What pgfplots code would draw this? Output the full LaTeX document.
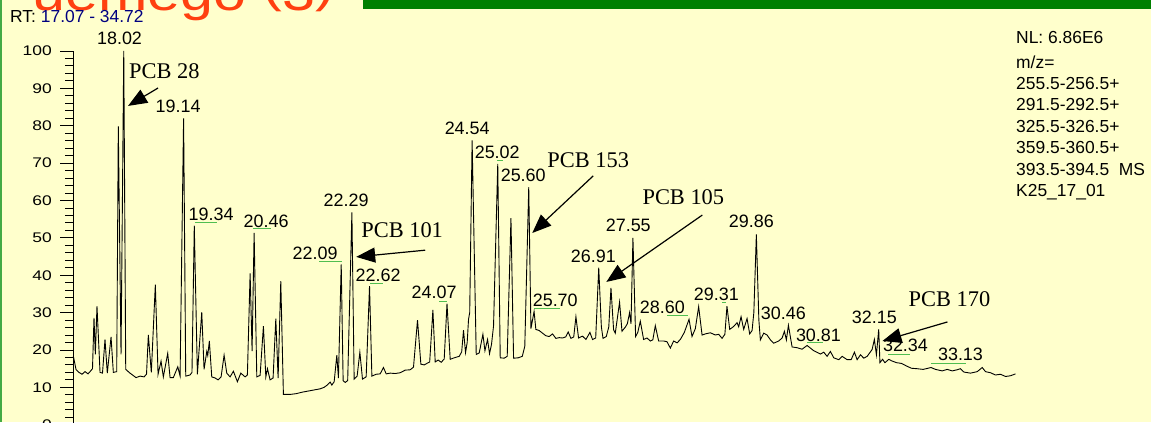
\documentclass[border=0pt]{standalone}
\usepackage{fontspec}
\setmainfont{Liberation Sans}
\newfontfamily\timesf{Liberation Serif}
\usepackage{graphicx}
\usepackage{pgfplots}
\usepackage{pgfplotstable}
\pgfplotsset{compat=1.18}
\usetikzlibrary{arrows.meta}
\definecolor{bgy}{RGB}{255,255,204}
\definecolor{topred}{RGB}{255,64,16}
\definecolor{darkgr}{RGB}{0,128,0}
\definecolor{bordgr}{RGB}{68,170,68}
\definecolor{rtblue}{RGB}{0,0,128}
\definecolor{lblgreen}{RGB}{80,190,80}

\pgfplotstableread{
t I
17.076 18.4
17.126 14.8
17.182 14.0
17.239 13.5
17.295 14.2
17.351 13.6
17.407 14.5
17.435 15.0
17.463 28.6
17.488 18.8
17.519 31.7
17.576 14.0
17.622 13.8
17.669 22.8
17.712 13.8
17.782 23.5
17.825 14.0
17.888 14.2
17.918 79.8
17.969 18.8
18.020 100.0
18.057 14.8
18.137 13.8
18.194 13.2
18.250 12.6
18.325 13.0
18.400 12.8
18.446 13.5
18.480 24.0
18.536 14.0
18.611 37.5
18.662 13.5
18.718 17.0
18.761 12.8
18.843 19.1
18.887 12.6
18.948 12.6
19.031 15.5
19.074 13.0
19.140 82.0
19.180 13.0
19.260 13.3
19.297 14.0
19.340 53.3
19.398 13.5
19.480 30.1
19.523 14.8
19.574 19.6
19.592 18.5
19.622 22.4
19.667 12.8
19.729 12.5
19.785 12.0
19.842 12.8
19.898 18.6
19.948 13.8
20.010 12.8
20.072 14.3
20.147 11.5
20.211 13.8
20.291 12.8
20.334 13.3
20.385 40.5
20.422 19.7
20.460 51.3
20.510 12.8
20.572 13.2
20.634 26.4
20.679 12.8
20.709 15.0
20.759 12.0
20.815 12.5
20.866 28.4
20.909 12.5
20.959 38.4
21.008 8.1
21.134 8.1
21.246 8.3
21.358 8.7
21.471 9.0
21.583 9.3
21.696 9.6
21.770 10.0
21.827 10.6
21.883 11.4
21.915 10.6
21.958 11.5
22.008 18.6
22.038 12.5
22.090 42.9
22.126 11.8
22.164 11.3
22.211 11.8
22.290 56.8
22.332 12.2
22.388 13.0
22.439 19.4
22.488 12.2
22.557 12.8
22.620 37.1
22.664 13.0
22.744 13.5
22.819 13.6
22.881 15.3
22.932 13.6
23.007 13.8
23.100 13.7
23.194 13.9
23.287 14.6
23.381 14.7
23.443 15.4
23.518 28.0
23.581 16.2
23.643 16.0
23.694 16.4
23.746 16.8
23.806 30.7
23.849 16.8
23.905 17.3
23.962 16.7
24.018 17.6
24.070 32.4
24.130 17.5
24.205 17.9
24.299 18.3
24.345 19.5
24.379 25.3
24.417 19.3
24.448 22.0
24.473 28.2
24.495 30.0
24.540 76.1
24.617 18.8
24.673 19.2
24.742 24.2
24.780 19.8
24.829 22.8
24.866 19.0
24.903 21.5
24.941 26.4
25.020 69.8
25.066 17.9
25.141 17.8
25.197 18.3
25.267 55.3
25.316 17.8
25.404 17.9
25.479 18.3
25.526 21.0
25.600 63.6
25.641 25.7
25.700 30.3
25.733 25.5
25.795 25.2
25.857 24.5
25.921 23.8
25.983 23.6
26.045 24.3
26.108 23.1
26.170 23.3
26.232 23.2
26.292 23.5
26.339 24.8
26.389 23.1
26.442 23.5
26.483 28.9
26.532 23.2
26.606 23.7
26.670 22.8
26.745 24.7
26.794 22.8
26.853 23.2
26.910 42.0
26.959 26.2
26.990 23.1
27.052 23.6
27.098 26.2
27.139 36.6
27.188 25.4
27.220 24.5
27.300 32.8
27.345 25.0
27.407 26.1
27.445 27.0
27.488 30.0
27.514 27.0
27.550 50.0
27.600 23.6
27.641 24.7
27.688 27.7
27.750 22.8
27.813 23.2
27.876 22.4
27.922 22.7
27.969 26.5
28.031 22.4
28.125 22.4
28.188 22.2
28.250 20.5
28.312 22.4
28.376 21.9
28.437 22.8
28.512 24.7
28.600 28.2
28.656 23.6
28.718 25.7
28.780 31.6
28.844 24.0
28.906 24.3
28.999 24.6
29.093 24.0
29.155 24.2
29.218 23.1
29.271 24.2
29.310 31.7
29.361 25.5
29.436 26.3
29.499 27.3
29.529 26.2
29.574 28.9
29.623 25.5
29.686 28.4
29.735 24.3
29.780 25.2
29.813 30.0
29.860 50.9
29.907 28.0
29.935 22.7
29.997 24.5
30.061 24.0
30.123 22.7
30.184 21.8
30.278 22.4
30.342 23.2
30.385 25.0
30.422 22.7
30.460 26.6
30.529 20.8
30.623 20.6
30.716 20.2
30.810 21.2
30.934 19.8
31.059 18.9
31.121 19.4
31.184 18.3
31.246 19.6
31.309 17.9
31.402 17.4
31.465 18.3
31.559 17.4
31.634 17.4
31.696 19.4
31.746 17.4
31.809 18.7
31.871 17.8
31.934 18.3
32.026 20.1
32.069 22.8
32.107 18.7
32.150 25.5
32.173 16.6
32.223 17.5
32.266 16.6
32.340 17.5
32.390 17.1
32.483 16.6
32.577 16.4
32.671 15.7
32.764 15.1
32.858 15.0
32.982 14.8
33.130 15.3
33.213 14.8
33.338 14.4
33.432 14.8
33.526 14.4
33.619 14.7
33.681 15.0
33.743 14.1
33.868 13.8
33.994 14.2
34.087 15.3
34.149 14.2
34.243 13.9
34.336 13.3
34.430 13.5
34.524 12.9
34.617 13.1
34.711 13.6
}\trace

\begin{document}
\begin{tikzpicture}[x=1bp,y=1bp]
\useasboundingbox (0,0) rectangle (1151,422);
\clip (0,0) rectangle (1151,422);
\fill[bgy] (0,0) rectangle (1151,422);
\fill[bordgr] (0,0) rectangle (2,422);
\fill[darkgr] (363,413) rectangle (1151,422);
\node[anchor=base west, inner sep=0, text=topred] at (32,411)
  {\scalebox{1.19}[1]{\fontsize{50}{50}\selectfont uemego \raisebox{9bp}{(}3\raisebox{9bp}{)}}};
\node[anchor=base west, inner sep=0] at (10,399.3)
  {\fontsize{17.5}{17.5}\selectfont RT: \textcolor{rtblue}{17.07 - 34.72}};

\begin{axis}[
  at={(73bp,-2.7bp)}, anchor=south west,
  scale only axis, width=943bp, height=373.7bp,
  xmin=17.07, xmax=34.72, ymin=0, ymax=100,
  axis x line=none, axis y line=left,
  y axis line style={-, line width=1bp},
  ytick={0,10,...,100}, minor y tick num=4,
  tick align=outside, major tick length=13bp, minor tick length=8bp,
  tick style={black, line width=0.9bp},
  yticklabel style={anchor=east, inner sep=0pt, xshift=-8bp},
  yticklabel={\scalebox{1.25}[1]{\fontsize{14}{14}\selectfont\pgfmathprintnumber[assume math mode=true]{\tick}}},
  clip=false,
]
\addplot[black, line width=0.9bp] table[x=t,y=I]{\trace};

\begin{scope}[every node/.style={inner sep=0pt, font=\fontsize{18}{18}\selectfont}]
\node at (axis cs:17.941,103.5) {18.02};
\node at (axis cs:19.036,85.3) {19.14};
\node at (axis cs:19.654,56.4) {19.34};
\node at (axis cs:20.684,54.5) {20.46};
\node at (axis cs:21.602,45.9) {22.09};
\node at (axis cs:22.182,60.1) {22.29};
\node at (axis cs:22.782,40.1) {22.62};
\node at (axis cs:23.830,35.5) {24.07};
\node at (axis cs:24.448,79.4) {24.54};
\node at (axis cs:25.010,73.0) {25.02};
\node at (axis cs:25.497,66.6) {25.60};
\node at (axis cs:26.096,33.4) {25.70};
\node at (axis cs:26.808,45.1) {26.91};
\node at (axis cs:27.463,53.4) {27.55};
\node at (axis cs:28.100,31.5) {28.60};
\node at (axis cs:29.111,35.0) {29.31};
\node at (axis cs:29.767,54.5) {29.86};
\node at (axis cs:30.366,29.9) {30.46};
\node at (axis cs:31.022,24.0) {30.81};
\node at (axis cs:32.070,28.8) {32.15};
\node at (axis cs:32.651,21.3) {32.34};
\node at (axis cs:33.681,18.7) {33.13};
\end{scope}

\begin{scope}[lblgreen, line width=1bp]
\draw (axis cs:19.355,54.05) -- (axis cs:19.767,54.05);
\draw (axis cs:20.441,52.4) -- (axis cs:20.778,52.4);
\draw (axis cs:21.677,43.8) -- (axis cs:22.108,43.8);
\draw (axis cs:22.632,37.9) -- (axis cs:22.875,37.9);
\draw (axis cs:23.924,33.1) -- (axis cs:24.074,33.1);
\draw (axis cs:25.010,70.6) -- (axis cs:25.123,70.6);
\draw (axis cs:25.703,31.2) -- (axis cs:26.190,31.2);
\draw (axis cs:28.194,29.1) -- (axis cs:28.587,29.1);
\draw (axis cs:29.224,32.6) -- (axis cs:29.299,32.6);
\draw (axis cs:30.816,21.9) -- (axis cs:31.115,21.9);
\draw (axis cs:32.333,18.9) -- (axis cs:32.745,18.9);
\draw (axis cs:33.138,16.5) -- (axis cs:33.775,16.5);
\end{scope}

\begin{scope}[every node/.style={anchor=base west, inner sep=0pt, font=\timesf\fontsize{22.5}{22.5}\selectfont}]
\node at (axis cs:18.119,92.7) {PCB 28};
\node at (axis cs:22.463,50.0) {PCB 101};
\node at (axis cs:25.947,68.7) {PCB 153};
\node at (axis cs:27.726,58.8) {PCB 105};
\node at (axis cs:32.707,31.5) {PCB 170};
\end{scope}

\begin{scope}[line width=1.2bp, -{Triangle[length=19bp,width=15bp]}]
\draw (axis cs:18.662,90.1) -- (axis cs:18.100,85.3);
\draw (axis cs:23.662,46.7) -- (axis cs:22.370,44.9);
\draw (axis cs:26.808,66.6) -- (axis cs:25.666,51.3);
\draw (axis cs:28.849,56.1) -- (axis cs:27.052,38.2);
\draw (axis cs:33.437,27.5) -- (axis cs:32.220,22.4);
\end{scope}
\end{axis}

\begin{scope}[every node/.style={anchor=base west, inner sep=0pt, font=\fontsize{17.5}{17.5}\selectfont}]
\node at (1016,378.7) {NL: 6.86E6};
\node at (1016,353.7) {m/z=};
\node at (1016,332.7) {255.5-256.5+};
\node at (1016,311.3) {291.5-292.5+};
\node at (1016,290.0) {325.5-326.5+};
\node at (1016,268.7) {359.5-360.5+};
\node at (1016,247.0) {393.5-394.5\ \ MS};
\node at (1016,225.3) {K25\_17\_01};
\end{scope}
\end{tikzpicture}
\end{document}
